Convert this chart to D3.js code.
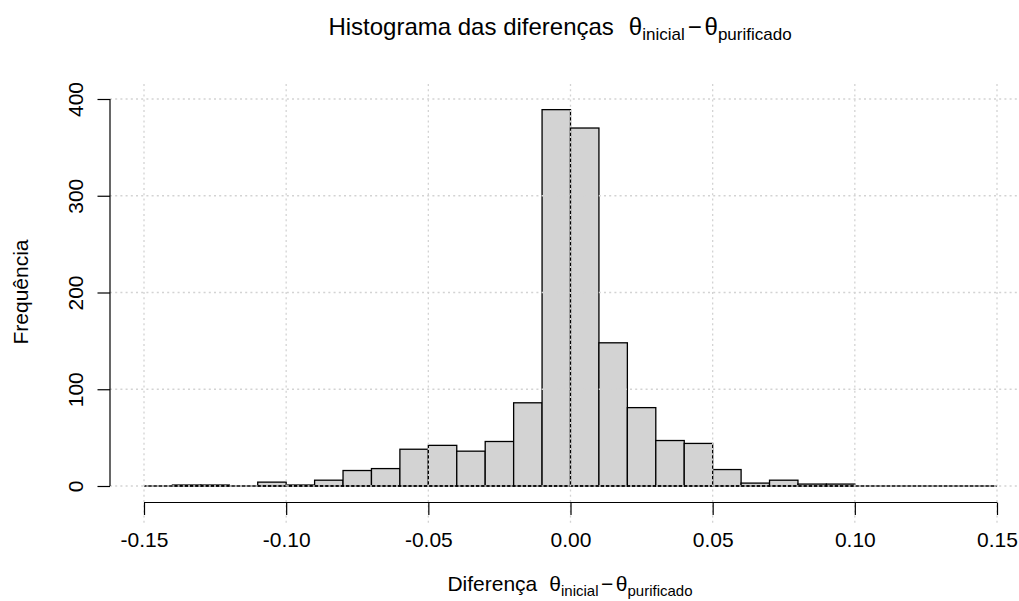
<!DOCTYPE html>
<html>
<head>
<meta charset="utf-8">
<script src="https://cdn.jsdelivr.net/npm/d3@7"></script>
<style>
  body { margin: 0; background: #ffffff; }
  svg { display: block; font-family: "Liberation Sans", Arial, sans-serif; }
</style>
</head>
<body>
<div id="chart"></div>
<script>
// Bin edges of the histogram (width 0.01, from -0.15 to 0.15)
const binStart = [-0.15, -0.14, -0.13, -0.12, -0.11, -0.10, -0.09, -0.08, -0.07, -0.06,
                  -0.05, -0.04, -0.03, -0.02, -0.01, 0.00, 0.01, 0.02, 0.03, 0.04,
                  0.05, 0.06, 0.07, 0.08, 0.09, 0.10, 0.11, 0.12, 0.13, 0.14];
const binWidth = 0.01;
// Frequency of each bin
const counts = [0, 1, 1, 0, 4, 1, 6, 16, 18, 38,
                42, 36, 46, 86, 389, 370, 148, 81, 47, 44,
                17, 3, 6, 2, 2, 0, 0, 0, 0, 0];

const xTicks = [-0.15, -0.10, -0.05, 0.00, 0.05, 0.10, 0.15];
const yTicks = [0, 100, 200, 300, 400];

const width = 1019, height = 601;

const svg = d3.select("#chart")
    .append("svg")
    .attr("width", width)
    .attr("height", height);

// Scales
const x = d3.scaleLinear().domain([-0.15, 0.15]).range([144, 997]);
const y = d3.scaleLinear().domain([0, 400]).range([486, 99]);

// Plot region (grid lines run across it)
const plotLeft = 110, plotRight = 1040, plotTop = 84, plotBottom = 524;

// Bars
const bins = binStart.map((b, i) => ({ x0: b, x1: b + binWidth, n: counts[i] }));

svg.append("g")
    .selectAll("rect")
    .data(bins)
    .enter().append("rect")
    .attr("x", d => x(d.x0))
    .attr("y", d => y(d.n))
    .attr("width", d => x(d.x1) - x(d.x0))
    .attr("height", d => y(0) - y(d.n))
    .attr("fill", "#d3d3d3")
    .attr("stroke", "#000")
    .attr("stroke-width", 1.3);

// empty bins still show as a flat line on the baseline
svg.append("line")
    .attr("x1", x(binStart[0]))
    .attr("x2", x(binStart[binStart.length - 1] + binWidth))
    .attr("y1", y(0)).attr("y2", y(0))
    .attr("stroke", "#000")
    .attr("stroke-width", 1.3);

// Grid, drawn on top of the bars like grid() after hist()
const grid = svg.append("g")
    .attr("stroke", "#d3d3d3")
    .attr("stroke-width", 1.3)
    .attr("stroke-dasharray", "2,3.2");

grid.selectAll(".gx")
    .data(xTicks)
    .enter().append("line")
    .attr("x1", d => x(d)).attr("x2", d => x(d))
    .attr("y1", plotTop).attr("y2", plotBottom);

grid.selectAll(".gy")
    .data(yTicks)
    .enter().append("line")
    .attr("x1", plotLeft).attr("x2", plotRight)
    .attr("y1", d => y(d)).attr("y2", d => y(d));

// X axis
const xAxis = d3.axisBottom(x)
    .tickValues(xTicks)
    .tickFormat(d3.format(".2f"))
    .tickSize(12.5)
    .tickPadding(17);

const gx = svg.append("g")
    .attr("transform", "translate(0,502.5)")
    .call(xAxis);
gx.select(".domain").attr("d", `M${x(-0.15)},0H${x(0.15)}`);
gx.selectAll("line, path").attr("stroke", "#000").attr("stroke-width", 1.2);
gx.selectAll("text")
    .style("font-size", "21px")
    .attr("fill", "#000")
    .text(d => d3.format(".2f")(d).replace("−", "-"));

// Y axis
const yAxis = d3.axisLeft(y)
    .tickValues(yTicks)
    .tickSize(12.5)
    .tickPadding(0);

const gy = svg.append("g")
    .attr("transform", "translate(110,0)")
    .call(yAxis);
gy.select(".domain").attr("d", `M0,${y(0)}V${y(400)}`);
gy.selectAll("line, path").attr("stroke", "#000").attr("stroke-width", 1.2);
gy.selectAll(".tick text")
    .style("font-size", "21px")
    .attr("fill", "#000")
    .attr("x", null).attr("dy", null)
    .attr("text-anchor", "middle")
    .attr("transform", "translate(-27,0) rotate(-90)");

// Label with theta_inicial - theta_purificado
function mathLabel(sel, prefix, gap, size, sub) {
    const shift = size * 0.22;
    sel.append("tspan").text(prefix);
    sel.append("tspan").attr("dx", gap).text("θ");
    sel.append("tspan").attr("dy", shift).style("font-size", sub + "px").text("inicial");
    sel.append("tspan").attr("dy", -shift).attr("dx", size * 0.12).text("−");
    sel.append("tspan").attr("dx", size * 0.12).text("θ");
    sel.append("tspan").attr("dy", shift).style("font-size", sub + "px").text("purificado");
}

// Title
svg.append("text")
    .attr("x", 560)
    .attr("y", 35)
    .attr("text-anchor", "middle")
    .style("font-size", "24px")
    .attr("fill", "#000")
    .call(mathLabel, "Histograma das diferenças", 15, 24, 17);

// X label
svg.append("text")
    .attr("x", 570)
    .attr("y", 591)
    .attr("text-anchor", "middle")
    .style("font-size", "21px")
    .attr("fill", "#000")
    .call(mathLabel, "Diferença", 12, 21, 15);

// Y label
svg.append("text")
    .attr("transform", "translate(28,292) rotate(-90)")
    .attr("text-anchor", "middle")
    .style("font-size", "21px")
    .attr("fill", "#000")
    .text("Frequência");
</script>
</body>
</html>
